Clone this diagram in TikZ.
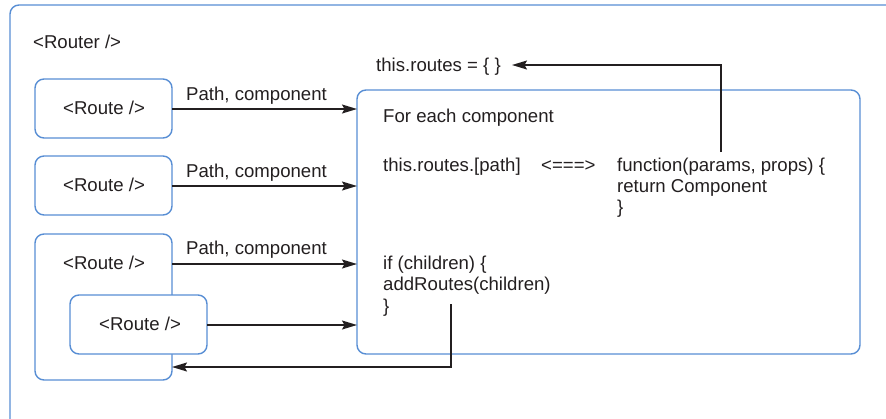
\documentclass[tikz,border=0pt]{standalone}
\usepackage{fontspec}
\setmainfont{Liberation Sans}
\usetikzlibrary{arrows.meta}
\definecolor{boxblue}{RGB}{88,142,212}
\definecolor{ink}{RGB}{35,31,32}
\begin{document}
\begin{tikzpicture}[x=1pt,y=-1pt,
  font=\fontsize{18.6}{21}\selectfont,
  rbox/.style={draw=boxblue,line width=1.4pt,rounded corners=9pt},
  lbl/.style={inner sep=0pt,anchor=base west,text=ink},
  conn/.style={draw=ink,line width=1.3pt,-{Stealth[length=15pt,width=9pt,inset=2.5pt]}}]
\useasboundingbox (0,0) rectangle (886,418);
\begin{scope}
\clip (0,0) rectangle (886,418);
\draw[rbox] (10,5) rectangle (920,450);
\end{scope}
\node[lbl] (router) at (33,48) {<Router />};
% route boxes
\draw[rbox] (35,79) rectangle (172,138);
\draw[rbox] (35,156) rectangle (172,215);
\draw[rbox] (35,234) rectangle (172,380);
\draw[rbox,fill=white] (70,295) rectangle (207,354);
\node[lbl] (t1) at (63,114) {<Route />};
\node[lbl] (t2) at (63,191) {<Route />};
\node[lbl] (t3) at (63,269) {<Route />};
\node[lbl] (t4) at (99,330) {<Route />};
% main box
\draw[rbox] (357,90) rectangle (860,354);
\coordinate (a1s) at (172,109);
\coordinate (a1e) at (357,109);
\coordinate (a2s) at (172,186);
\coordinate (a2e) at (357,186);
\coordinate (a3s) at (172,264);
\coordinate (a3e) at (357,264);
\coordinate (a4s) at (207,325);
\coordinate (a4e) at (357,325);
\draw[conn] (a1s) -- (a1e);
\draw[conn] (a2s) -- (a2e);
\draw[conn] (a3s) -- (a3e);
\draw[conn] (a4s) -- (a4e);
\node[lbl] (p1) at (186,100) {Path, component};
\node[lbl] (p2) at (186,177) {Path, component};
\node[lbl] (p3) at (186,254) {Path, component};
% texts inside main box
\node[lbl] (fe) at (383,122) {For each component};
\node[lbl] (tr) at (383,171) {this.routes.[path]};
\node[lbl] (eq) at (541,171) {<===>};
\node[lbl] (fn) at (617,171) {function(params, props) \{};
\node[lbl] (rc) at (617,192) {return Component};
\node[lbl] (cb) at (617,213) {\}};
\node[lbl] (ic) at (383,269) {if (children) \{};
\node[lbl] (ar) at (383,290) {addRoutes(children)};
\node[lbl] (ic2) at (383,312) {\}};
\node[lbl] (rt) at (376,71) {this.routes = \{ \}};
% feedback arrows
\coordinate (up0) at (721,152);
\coordinate (up1) at (721,65);
\coordinate (upe) at (512,65);
\draw[conn] (up0) -- (up1) -- (upe);
\coordinate (dn0) at (451,304);
\coordinate (dn1) at (451,367);
\coordinate (dne) at (172,367);
\draw[conn] (dn0) -- (dn1) -- (dne);
\end{tikzpicture}
\end{document}
